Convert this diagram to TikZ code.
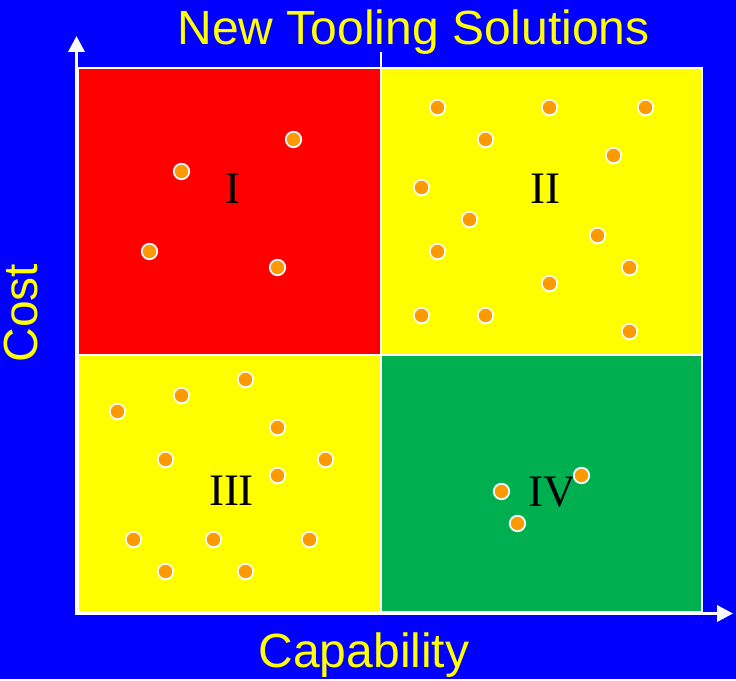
\documentclass[tikz,border=0pt]{standalone}
\usepackage{fontspec}
\setmainfont{Liberation Serif}
\setsansfont{Liberation Sans}
\usetikzlibrary{arrows.meta}

\definecolor{bgblue}{RGB}{0,0,255}
\definecolor{quadred}{RGB}{255,0,0}
\definecolor{quadyellow}{RGB}{255,255,0}
\definecolor{quadgreen}{RGB}{0,176,80}
\definecolor{dotorange}{RGB}{255,153,0}

\tikzset{
  quad/.style={draw=white, line width=2pt},
  axis/.style={white, line width=3.5pt, line cap=rect, -{Triangle[width=16pt,length=16pt]}},
  dot/.style={circle, draw=white, line width=1.75pt, fill=dotorange, inner sep=0pt, minimum size=15.5pt},
  roman/.style={font=\fontsize{45}{45}\selectfont, anchor=base},
  axlabel/.style={text=quadyellow, font=\sffamily\fontsize{48}{48}\selectfont, anchor=base}
}

\begin{document}
\begin{tikzpicture}[x=1pt, y=-1pt]
  \fill[bgblue] (0,0) rectangle (736,679);

  % the four quadrants
  \filldraw[quad, fill=quadred] (78,68) rectangle (381,355);
  \filldraw[quad, fill=quadyellow] (381,68) rectangle (702,355);
  \filldraw[quad, fill=quadyellow] (78,355) rectangle (381,612);
  \filldraw[quad, fill=quadgreen] (381,355) rectangle (702,612);
  \draw[white, line width=2pt] (381,52) -- (381,68);

  % axes
  \coordinate (origin) at (76.5,613.5);
  \coordinate (ytip) at (76.5,36);
  \coordinate (xtip) at (733,613.5);
  \draw[axis] (origin) -- (ytip);
  \draw[axis] (origin) -- (xtip);

  \node[roman] (q1) at (232.5,203) {I};
  \node[roman] (q2) at (545,203) {II};
  \node[roman] (q3) at (231.5,505.5) {III};
  \node[roman] (q4) at (552,506.5) {IV};

  \foreach \px/\py [count=\i] in {181.5/171.5, 293.5/139.5, 149.5/251.5, 277.5/267.5,
      437.5/107.5, 549.5/107.5, 645.5/107.5, 485.5/139.5, 613.5/155.5, 421.5/187.5,
      469.5/219.5, 597.5/235.5, 437.5/251.5, 629.5/267.5, 549.5/283.5, 421.5/315.5,
      485.5/315.5, 629.5/331.5,
      245.5/379.5, 181.5/395.5, 117.5/411.5, 277.5/427.5, 165.5/459.5, 325.5/459.5,
      277.5/475.5, 133.5/539.5, 213.5/539.5, 309.5/539.5, 165.5/571.5, 245.5/571.5,
      581.5/475.5, 501.5/491.5, 517.5/523.5}
    \node[dot] (dot\i) at (\px,\py) {};

  \node[axlabel] (title) at (413.5,45) {New Tooling Solutions};
  \node[axlabel] (xlabel) at (364,667) {Capability};
  \node[axlabel, rotate=90] (ylabel) at (37,313) {Cost};
\end{tikzpicture}
\end{document}
